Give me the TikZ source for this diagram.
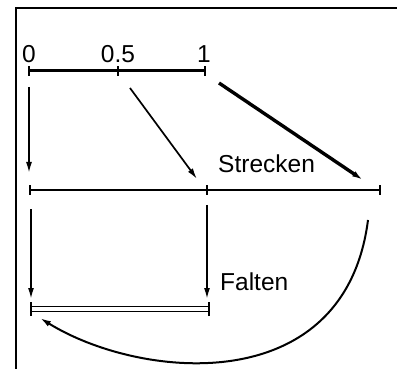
\documentclass[tikz,border=0pt]{standalone}
\usepackage{fontspec}
\setmainfont{Liberation Sans}
\usetikzlibrary{arrows.meta}
\begin{document}
\begin{tikzpicture}[x=1pt,y=-1pt,
  seg/.style={line width=3pt},
  tickl/.style={line width=1.6pt},
  arr/.style={line width=1.7pt,-{Latex[length=11pt,width=6pt]}},
  lbl/.style={inner sep=0pt,font=\fontsize{24.5}{24.5}\selectfont}]
\useasboundingbox (0,0) rectangle (397,369);
\fill[white] (0,0) rectangle (397,369);
% frame
\draw[line width=2.2pt] (16,369) -- (16,8) -- (397,8);
% top segment
\coordinate (a0) at (29,71);
\coordinate (a5) at (118,71);
\coordinate (a1) at (205,71);
\draw[seg] (a0) -- (a1);
\foreach \p in {a0,a5,a1} \draw[tickl] ([yshift=-5]\p) -- ([yshift=5]\p);
\node[lbl,anchor=south] (l0) at (29,63) {0};
\node[lbl,anchor=south] (l5) at (118,63) {0.5};
\node[lbl,anchor=south] (l1) at (204,63) {1};
% middle segment
\coordinate (b0) at (30,190);
\coordinate (b5) at (207,190);
\coordinate (b1) at (380,190);
\draw[line width=2.3pt] (b0) -- (b1);
\foreach \p in {b0,b5,b1} \draw[tickl] ([yshift=-5]\p) -- ([yshift=5]\p);
\node[lbl,anchor=west] (st) at (218,164) {Strecken};
% bottom double segment
\coordinate (c0) at (31,309);
\coordinate (c1) at (209,309);
\draw[line width=1.6pt] ([yshift=-2.4]c0) -- ([yshift=-2.4]c1);
\draw[line width=1.6pt] ([yshift=2.4]c0) -- ([yshift=2.4]c1);
\foreach \p in {c0,c1} \draw[tickl] ([yshift=-7]\p) -- ([yshift=7]\p);
\node[lbl,anchor=west] (fa) at (220,282) {Falten};
% arrows
\coordinate (s1) at (29,87);   \coordinate (e1) at (29,173);
\coordinate (s2) at (130,88);  \coordinate (e2) at (197,179);
\coordinate (s3) at (219,83);  \coordinate (e3) at (363,180);
\coordinate (s4) at (31,209);  \coordinate (e4) at (31,299);
\coordinate (s5) at (207,205); \coordinate (e5) at (207,299);
\coordinate (s6) at (368,220); \coordinate (e6) at (40,318);
\draw[arr] (s1) -- (e1);
\draw[arr] (s2) -- (e2);
\draw[arr,line width=3.4pt] (s3) -- (e3);
\draw[arr] (s4) -- (e4);
\draw[arr] (s5) -- (e5);
\draw[arr,line width=2pt] (s6) .. controls (345,400) and (140,380) .. (e6);
\end{tikzpicture}
\end{document}
